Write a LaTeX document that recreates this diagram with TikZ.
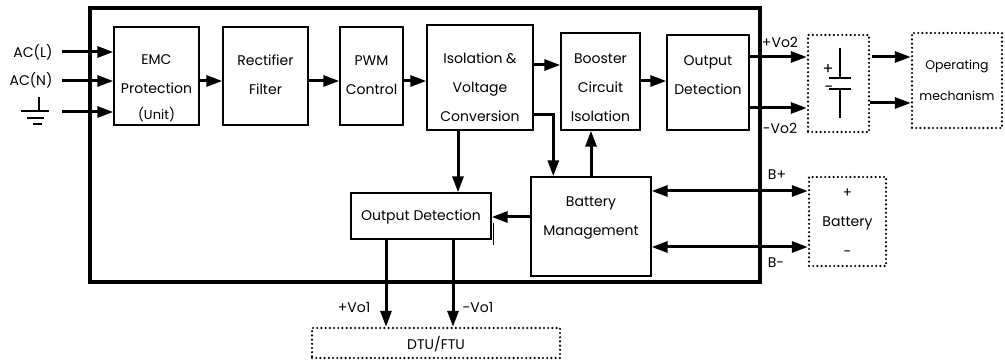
\documentclass[tikz,border=0pt]{standalone}
\usepackage{fontspec}
\setmainfont{Poppins}
\usetikzlibrary{arrows.meta, calc, positioning}
\tikzstyle{blk}=[draw, line width=1.4pt, inner sep=0pt]
\tikzstyle{dbox}=[draw, line width=2.4pt, dash pattern=on 0pt off 4.2pt, line cap=round, inner sep=0pt]
\tikzstyle{txt}=[font=\fontsize{14}{29}\selectfont, align=center, inner sep=0pt]
\tikzstyle{lbl}=[font=\fontsize{14}{16}\selectfont, inner sep=0pt]
\tikzstyle{wire}=[line width=3pt, -{Triangle[length=16pt,width=11pt]}]
\tikzstyle{both}=[line width=3pt, {Triangle[length=16pt,width=11pt]}-{Triangle[length=16pt,width=11pt]}]

\begin{document}
\begin{tikzpicture}[x=1pt, y=-1pt]
  \useasboundingbox (0,0) rectangle (1005,363);
  % housing
  \node[draw, line width=3.2pt, minimum width=670pt, minimum height=274pt] (frame) at (425,145) {};
  % blocks
  \node[blk, minimum width=85pt, minimum height=98pt] (emc) at (156.5,76) {};
  \node[blk, minimum width=85pt, minimum height=98pt] (rect) at (265.5,76) {};
  \node[blk, minimum width=63pt, minimum height=98pt] (pwm) at (371.5,76) {};
  \node[blk, minimum width=106pt, minimum height=105pt] (iso) at (480,77.5) {};
  \node[blk, minimum width=79pt, minimum height=97pt] (boost) at (600.5,81.5) {};
  \node[blk, minimum width=82pt, minimum height=95pt] (odet) at (708,82.5) {};
  \node[blk, minimum width=120pt, minimum height=99pt] (bmgmt) at (591,226.5) {};
  \node[blk, minimum width=140pt, minimum height=46pt] (odetb) at (421,216) {};
  % outside units
  \node[dbox, minimum width=61pt, minimum height=97pt] (cap) at (838.5,83.5) {};
  \node[dbox, minimum width=90pt, minimum height=95pt] (oper) at (957,80.5) {};
  \node[dbox, minimum width=77pt, minimum height=89pt] (batt) at (847.5,221.5) {};
  \node[dbox, minimum width=248pt, minimum height=30pt] (dtu) at (436,343) {};
  % texts
  \node[txt] (emcT) at (156.5,88) {EMC\\Protection\\[-3pt]{\fontsize{13}{15}\selectfont(Unit)}};
  \node[txt] (rectT) at (265.5,75) {Rectifier\\Filter};
  \node[txt] (pwmT) at (371.5,75) {PWM\\Control};
  \node[txt] (isoT) at (480,87) {Isolation \&\\Voltage\\Conversion};
  \node[txt] (boostT) at (600.5,87.5) {Booster\\Circuit\\Isolation};
  \node[txt] (odetT) at (708,75) {Output\\Detection};
  \node[txt] (bmgmtT) at (591,218) {Battery\\Management};
  \node[txt] (odetbT) at (421,217) {Output Detection};
  \node[txt, font=\fontsize{12.5}{31}\selectfont] (operT) at (957,80) {Operating\\mechanism};
  \node[txt] (dtuT) at (436,344) {DTU/FTU};
  \node[txt, font=\fontsize{14}{29.5}\selectfont] (battT) at (847.5,222.5) {+\\Battery\\-};
  % labels
  \node[lbl] (acL) at (33,52) {AC(L)};
  \node[lbl] (acN) at (31,80.5) {AC(N)};
  \node[lbl] (vo2p) at (780,42) {+Vo2};
  \node[lbl] (vo2m) at (780,128) {-Vo2};
  \node[lbl] (bp) at (777,175) {B+};
  \node[lbl] (bm) at (776,263) {B-};
  \node[lbl] (vo1p) at (354,308) {+Vo1};
  \node[lbl] (vo1m) at (478,308) {-Vo1};
  \node[lbl, font=\fontsize{16}{18}\selectfont] (capP) at (828,70) {+};
  \node[lbl, font=\fontsize{16}{18}\selectfont] (capM) at (829,89) {-};
  % ground
  \coordinate (gnd) at (39,97);
  \draw[line width=1.4pt] (gnd) -- ++(0,14);
  \draw[line width=1.6pt] ($(gnd)+(-18,14)$) -- ++(28,0);
  \draw[line width=1.6pt] ($(gnd)+(-12,21)$) -- ++(17,0);
  \draw[line width=2.4pt] ($(gnd)+(-6,27)$) -- ++(9,0);
  % capacitor
  \coordinate (capTop) at (840,48);
  \draw[line width=1.6pt] (capTop) -- ++(0,30) ++(-11,0) -- ++(22,0);
  \draw[line width=1.6pt] ($(capTop)+(-11,41)$) -- ++(22,0) ++(-11,0) -- ++(0,29);
  % inputs
  \coordinate (inL) at (62,52);
  \coordinate (inN) at (62,81);
  \coordinate (inG) at (62,112);
  \draw[wire] (inL) -- (inL -| emc.west);
  \draw[wire] (inN) -- (inN -| emc.west);
  \draw[wire] (inG) -- (inG -| emc.west);
  % main chain
  \draw[wire] ($(emc.east)+(0,5)$) coordinate (a1) -- (a1 -| rect.west);
  \draw[wire] ($(rect.east)+(0,5)$) coordinate (a2) -- (a2 -| pwm.west);
  \draw[wire] ($(pwm.east)+(0,5)$) coordinate (a3) -- (a3 -| iso.west);
  \draw[wire] ($(iso.east)+(0,-12.5)$) coordinate (a4) -- (a4 -| boost.west);
  \draw[wire] ($(boost.east)+(0,-0.5)$) coordinate (a5) -- (a5 -| odet.west);
  \draw[wire] ($(odet.east)+(0,-25.5)$) coordinate (a6) -- (a6 -| cap.west);
  \draw[wire] ($(odet.east)+(0,25.5)$) coordinate (a7) -- (a7 -| cap.west);
  \draw[wire] ($(cap.east)+(2,-26.5)$) coordinate (a8) -- (a8 -| oper.west);
  \draw[wire] ($(cap.east)+(0,19.5)$) coordinate (a9) -- (a9 -| oper.west);
  % inner links
  \draw[wire] ($(iso.south)+(-22,0)$) coordinate (b1) -- (b1 |- odetb.north);
  \draw[wire] ($(iso.east)+(0,37.5)$) -| ($(bmgmt.north west)+(23,0)$);
  \draw[wire] (bmgmt.north) -- (bmgmt.north |- boost.south);
  \draw[wire] ($(bmgmt.west)+(0,-9.5)$) coordinate (b2) -- (b2 -| odetb.east);
  \draw[line width=1.4pt] ($(odetb.east)+(2,7)$) -- ++(0,22);
  % battery
  \draw[both] ($(bmgmt.east)+(0,-35.5)$) coordinate (c1) -- (c1 -| batt.west);
  \draw[both] ($(bmgmt.east)+(0,20.5)$) coordinate (c2) -- (c2 -| batt.west);
  % outputs
  \draw[wire] ($(odetb.south)+(-35,0)$) coordinate (d1) -- (d1 |- dtu.north);
  \draw[wire] ($(odetb.south)+(32,0)$) coordinate (d2) -- (d2 |- dtu.north);
\end{tikzpicture}
\end{document}
